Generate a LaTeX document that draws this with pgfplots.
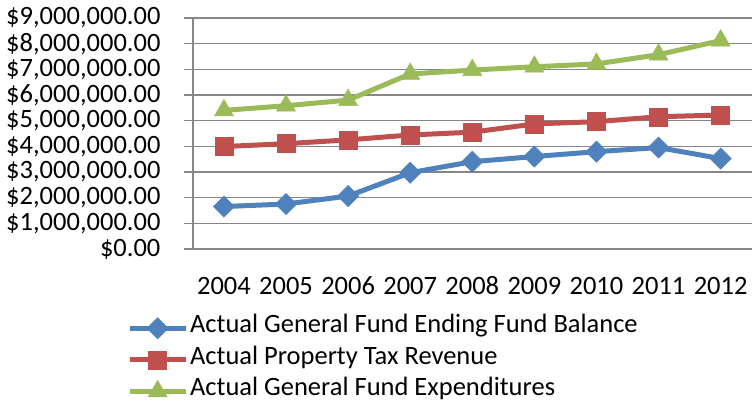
\documentclass[border=0pt]{standalone}
\usepackage{fontspec}
\setmainfont{Carlito}
\usepackage{pgfplots}
\pgfplotsset{compat=1.18}
\definecolor{xlblue}{HTML}{4F81BD}
\definecolor{xlred}{HTML}{C0504D}
\definecolor{xlgreen}{HTML}{9BBB59}
\definecolor{gridgray}{HTML}{868686}
\newcommand\cf{\fontsize{26.5bp}{32bp}\selectfont}

% values in dollars, years 2004..2012 at x = 0..8
\pgfplotstableread{
x balance revenue expend
0 1650000 3990000 5400000
1 1750000 4100000 5580000
2 2060000 4250000 5800000
3 2970000 4440000 6820000
4 3400000 4550000 6970000
5 3600000 4870000 7100000
6 3790000 4960000 7210000
7 3950000 5150000 7570000
8 3520000 5220000 8120000
}\fund

\begin{document}
\begin{tikzpicture}
\begin{axis}[
    name=ax,
    scale only axis,
    width=559bp, height=231bp,
    xmin=-0.5, xmax=8.5,
    ymin=0, ymax=9000000,
    axis lines=left,
    axis line style={-, gridgray, line width=1.3bp},
    xtick={0,...,8},
    xticklabels={2004,2005,2006,2007,2008,2009,2010,2011,2012},
    x tick style={draw=none},
    extra x ticks={-0.5,0.5,1.5,2.5,3.5,4.5,5.5,6.5,7.5,8.5},
    extra x tick labels={},
    extra x tick style={major tick length=8bp, tick align=outside,
        tick style={gridgray, line width=1.3bp}, grid=none},
    ytick={0,1000000,...,9000000},
    yticklabels={{\$0.00},{\$1,000,000.00},{\$2,000,000.00},{\$3,000,000.00},
        {\$4,000,000.00},{\$5,000,000.00},{\$6,000,000.00},{\$7,000,000.00},
        {\$8,000,000.00},{\$9,000,000.00}},
    scaled y ticks=false,
    ymajorgrids,
    grid style={gridgray, line width=1.3bp},
    y tick style={gridgray, line width=1.3bp},
    major tick length=9bp,
    tick align=outside,
    tick label style={font=\cf, black},
    yticklabel style={xshift=-20bp},
    xticklabel style={yshift=-15.5bp, text height=18bp, text depth=0bp},
    legend style={at={(rel axis cs:0,0)}, anchor=north west,
        xshift=-66bp, yshift=-63.5bp,
        draw=none, fill=none, font=\cf, row sep=0bp,
        inner sep=0pt, nodes={inner sep=2bp, text height=18bp, text depth=9.5bp}},
    legend cell align=left,
    legend image code/.code={
        \draw[mark repeat=2, mark phase=2, #1]
            plot coordinates {(0bp,0bp) (28bp,0bp) (56bp,0bp)};},
    every axis plot/.append style={line width=5bp},
]
\addplot[xlblue, mark=square*, mark size=7.5bp,
    mark options={rotate=45, solid, fill=xlblue, line width=0.5bp}]
    table[x=x, y=balance] {\fund};
\addlegendentry{Actual General Fund Ending Fund Balance}
\addplot[xlred, mark=square*, mark size=9bp,
    mark options={solid, fill=xlred, line width=0.5bp}]
    table[x=x, y=revenue] {\fund};
\addlegendentry{Actual Property Tax Revenue}
\addplot[xlgreen, mark=triangle*, mark size=11bp,
    mark options={solid, fill=xlgreen, line width=0.5bp}]
    table[x=x, y=expend] {\fund};
\addlegendentry{Actual General Fund Expenditures}
\end{axis}
\path (ax.south west) ++(-193bp,249bp) ++(755bp,-409bp);
\end{tikzpicture}
\end{document}
